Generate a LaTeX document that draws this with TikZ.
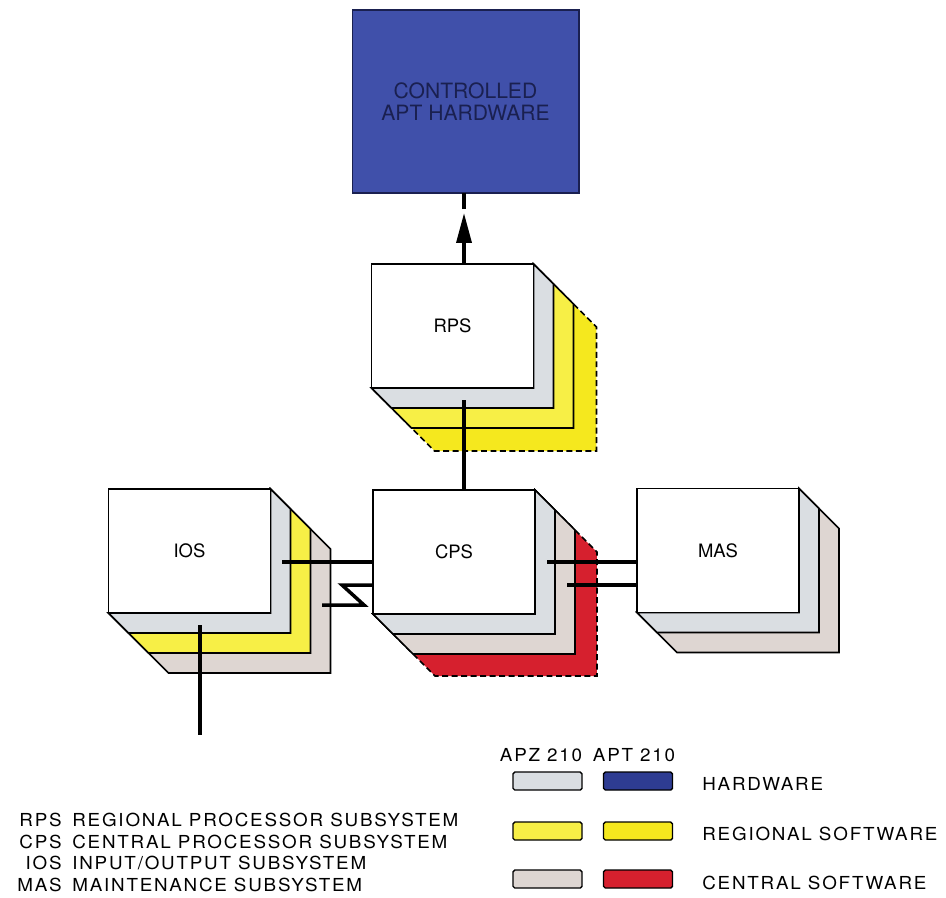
\documentclass[tikz,border=0pt]{standalone}
\usepackage{fontspec}
\setmainfont{TeX Gyre Heros}
\newfontfamily\legfont[LetterSpace=10,FakeStretch=1.05]{TeX Gyre Heros}
\usetikzlibrary{arrows.meta,backgrounds,calc}
\definecolor{hwgrey}{RGB}{218,222,226}
\definecolor{regyel}{RGB}{247,239,70}
\definecolor{aptyel}{RGB}{245,232,30}
\definecolor{cenbeige}{RGB}{222,214,210}
\definecolor{aptred}{RGB}{214,32,46}
\definecolor{aptblue}{RGB}{64,80,170}
\definecolor{swblue}{RGB}{46,60,146}
\definecolor{navy}{RGB}{26,32,80}
\newcommand\boxlayer[3]{\path[#3] (#1.north east) -- ++(#2,#2) -- ($(#1.south east)+(#2,#2)$) -- ($(#1.south west)+(#2,#2)$) -- (#1.south west) -- (#1.south east) -- cycle;}
\begin{document}
\begin{tikzpicture}[x=0.02cm,y=-0.02cm,
  face/.style={draw, line width=0.9pt, fill=white, inner sep=0pt, outer sep=0pt,
    minimum width=3.24cm, minimum height=2.48cm, font=\fontsize{10.5}{12}\selectfont},
  lay/.style={draw, line width=0.9pt, line join=miter},
  dashlay/.style={lay, dash pattern=on 3.4pt off 2pt},
  wire/.style={line width=2pt, line join=miter},
  sw/.style={draw, line width=0.8pt, rounded corners=1pt, minimum width=1.38cm,
    minimum height=0.36cm, inner sep=0pt},
  leg/.style={inner sep=0pt, font=\legfont\fontsize{10.2}{12}\selectfont}]
\useasboundingbox (0,0) rectangle (946,897);

% controlled hardware
\node[draw=navy, line width=0.6pt, fill=aptblue, minimum width=4.54cm, minimum height=3.66cm,
  inner sep=0pt, outer sep=0pt, text=navy, align=center, font=\fontsize{12}{12.5}\selectfont]
  (blue) at (465.5,101.5) {CONTROLLED\\APT HARDWARE};

% front faces
\node[face] (rps) at (452.5,326) {RPS};
\node[face] (ios) at (189.5,551) {IOS};
\node[face] (cps) at (454,552) {CPS};
\node[face] (mas) at (718,550.5) {MAS};

\begin{scope}[on background layer]
  \boxlayer{rps}{63}{dashlay,fill=aptyel}
  \boxlayer{rps}{40}{lay,fill=regyel}
  \boxlayer{rps}{20}{lay,fill=hwgrey}
  \boxlayer{ios}{60}{lay,fill=cenbeige}
  \boxlayer{ios}{40}{lay,fill=regyel}
  \boxlayer{ios}{20}{lay,fill=hwgrey}
  \boxlayer{cps}{62}{dashlay,fill=aptred}
  \boxlayer{cps}{40}{lay,fill=cenbeige}
  \boxlayer{cps}{20}{lay,fill=hwgrey}
  \boxlayer{mas}{40}{lay,fill=cenbeige}
  \boxlayer{mas}{20}{lay,fill=hwgrey}
\end{scope}

% connectors
\coordinate (vx) at (464,0);
\coordinate (rpsin) at (464,400);
\coordinate (tip) at (464,213);
\coordinate (tipend) at (464,209);
\coordinate (iosin) at (200,625);
\coordinate (iosout) at (200,735);
\coordinate (w1) at (282,562);
\coordinate (z1) at (322,605);
\coordinate (z2) at (364,605);
\coordinate (z3) at (342,585);
\coordinate (m1) at (547,562);
\coordinate (m2) at (567,585);

\draw[wire] (cps.north -| vx) -- (rpsin);
\draw[wire, -{Triangle[length=17pt,width=8.5pt]}] (rps.north -| vx) -- (tip);
\draw[wire] (tipend) -- (blue.south -| vx);
\draw[wire] (iosin) -- (iosout);
\draw[wire] (w1) -- (w1 -| cps.west);
\draw[wire] (z1) -- (z2) -- (z3) -- (z3 -| cps.west);
\draw[wire] (m1) -- (m1 -| mas.west);
\draw[wire] (m2) -- (m2 -| mas.west);

% legend
\node[leg, anchor=base] (apz) at (541,761) {APZ 210};
\node[leg, anchor=base] (apt) at (634,761) {APT 210};
\node[sw, fill=hwgrey] (s11) at (547.5,781) {};
\node[sw, fill=swblue] (s12) at (638,781) {};
\node[sw, fill=regyel] (s21) at (547.5,831) {};
\node[sw, fill=aptyel] (s22) at (638,831) {};
\node[sw, fill=cenbeige] (s31) at (547.5,879) {};
\node[sw, fill=aptred] (s32) at (638,879) {};
\node[leg, anchor=base west] (lh) at (702,790) {HARDWARE};
\node[leg, anchor=base west] (lr) at (702,840) {REGIONAL SOFTWARE};
\node[leg, anchor=base west] (lc) at (702,889) {CENTRAL SOFTWARE};

% abbreviations
\node[leg, anchor=base east] (a1) at (62,826) {RPS};
\node[leg, anchor=base west] (d1) at (72,826) {REGIONAL PROCESSOR SUBSYSTEM};
\node[leg, anchor=base east] (a2) at (62,848) {CPS};
\node[leg, anchor=base west] (d2) at (72,848) {CENTRAL PROCESSOR SUBSYSTEM};
\node[leg, anchor=base east] (a3) at (62,869) {IOS};
\node[leg, anchor=base west] (d3) at (72,869) {INPUT/OUTPUT SUBSYSTEM};
\node[leg, anchor=base east] (a4) at (62,891) {MAS};
\node[leg, anchor=base west] (d4) at (72,891) {MAINTENANCE SUBSYSTEM};
\end{tikzpicture}
\end{document}
